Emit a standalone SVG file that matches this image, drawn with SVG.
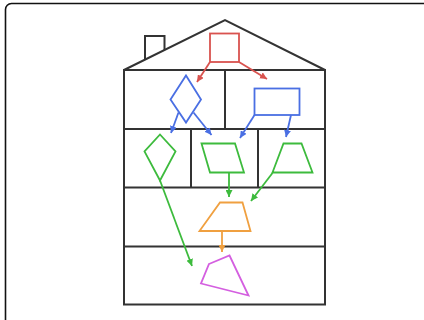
<svg xmlns="http://www.w3.org/2000/svg" width="424" height="320" viewBox="0 0 424 320">
<style>
.house{fill:none;stroke:#333;stroke-width:2;stroke-linejoin:miter}
.frame{fill:none;stroke:#111;stroke-width:1.6}
.n{fill:none;stroke-width:1.8;stroke-linejoin:miter}
.c{fill:none;stroke-width:1.8}
.red{stroke:#d9534f}.blue{stroke:#4a6fe3}.green{stroke:#3dbb3d}.orange{stroke:#f0a040}.mag{stroke:#d45fe0}
</style>
<defs>
<marker id="ar" viewBox="0 0 10 10" refX="10" refY="5" markerWidth="7" markerHeight="7" markerUnits="userSpaceOnUse" orient="auto"><path d="M0,0L10,5L0,10z" fill="#d9534f"/></marker>
<marker id="ab" viewBox="0 0 10 10" refX="10" refY="5" markerWidth="7" markerHeight="7" markerUnits="userSpaceOnUse" orient="auto"><path d="M0,0L10,5L0,10z" fill="#4a6fe3"/></marker>
<marker id="ag" viewBox="0 0 10 10" refX="10" refY="5" markerWidth="7" markerHeight="7" markerUnits="userSpaceOnUse" orient="auto"><path d="M0,0L10,5L0,10z" fill="#3dbb3d"/></marker>
<marker id="ao" viewBox="0 0 10 10" refX="10" refY="5" markerWidth="7" markerHeight="7" markerUnits="userSpaceOnUse" orient="auto"><path d="M0,0L10,5L0,10z" fill="#f0a040"/></marker>
</defs>
<rect width="424" height="320" fill="#fff"/>
<rect class="frame" x="5.5" y="3.5" width="440" height="340" rx="6"/>
<g id="house">
<path class="house" d="M124,70L225,20L325,70Z"/>
<path class="house" d="M145,59.6V36H164.5V50"/>
<rect class="house" x="124" y="70" width="201" height="234.5"/>
<path class="house" d="M124,129H325M124,187.5H325M124,246.5H325M225,70V129M191,129V187.5M258,129V187.5"/>
</g>
<g id="connectors">
<path class="c red" d="M210,62L197,82" marker-end="url(#ar)"/>
<path class="c red" d="M239,62L267,79" marker-end="url(#ar)"/>
<path class="c blue" d="M178.5,112.5L171,133" marker-end="url(#ab)"/>
<path class="c blue" d="M193.5,112.5L211.5,135" marker-end="url(#ab)"/>
<path class="c blue" d="M254.5,115L240,138" marker-end="url(#ab)"/>
<path class="c blue" d="M291,115L286,137" marker-end="url(#ab)"/>
<path class="c green" d="M160,180.5L192,266" marker-end="url(#ag)"/>
<path class="c green" d="M229,173L229,197" marker-end="url(#ag)"/>
<path class="c green" d="M272.5,173L251,201" marker-end="url(#ag)"/>
<path class="c orange" d="M222,231L222,252" marker-end="url(#ao)"/>
</g>
<g id="red-square"><rect class="n red" x="210" y="33.5" width="29" height="28.5"/></g>
<g id="blue-diamond"><path class="n blue" d="M186,75.5L201,99.5L186,122.5L170.5,99.5Z"/></g>
<g id="blue-rect"><rect class="n blue" x="254.5" y="88.5" width="45" height="26.5"/></g>
<g id="green-diamond"><path class="n green" d="M160,134.5L175.5,151.5L160,180.5L144.5,151.5Z"/></g>
<g id="green-parallelogram"><path class="n green" d="M201.5,143.5H235L244,172.5H210Z"/></g>
<g id="green-trapezoid"><path class="n green" d="M283.5,143.5H301.5L312.5,172.5H272.5Z"/></g>
<g id="orange-trapezoid"><path class="n orange" d="M220,202.5H242.5L250.5,231H199.5Z"/></g>
<g id="magenta-quad"><path class="n mag" d="M209,264L229.5,255.5L248.5,295.5L201,283.5Z"/></g>
</svg>
